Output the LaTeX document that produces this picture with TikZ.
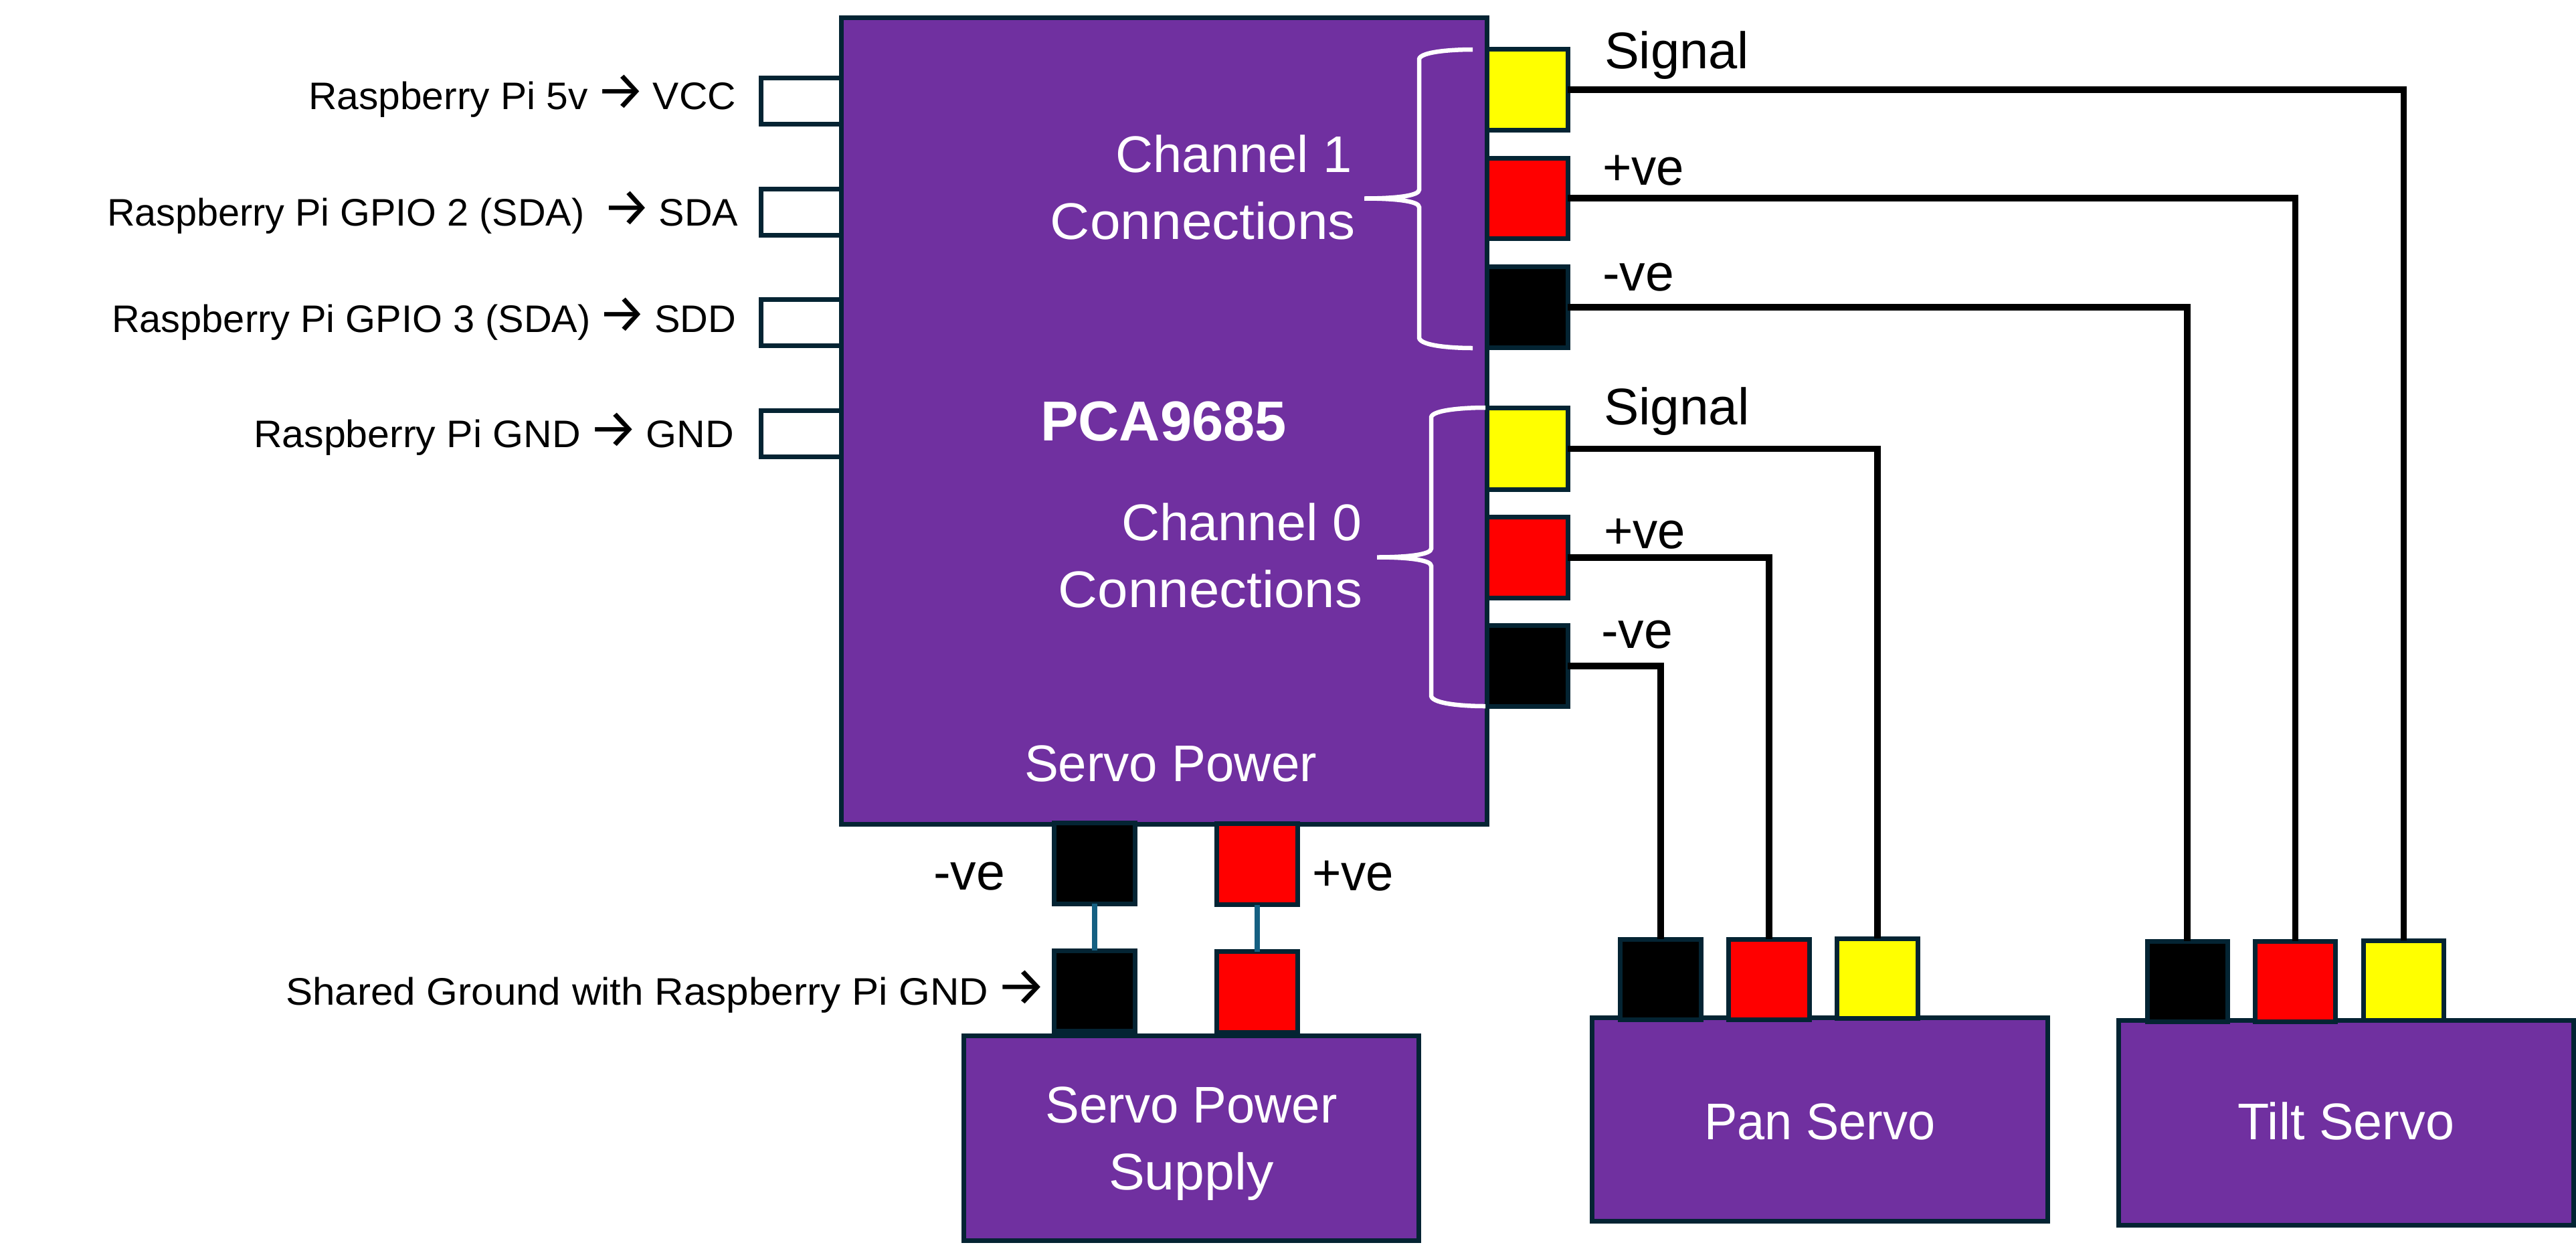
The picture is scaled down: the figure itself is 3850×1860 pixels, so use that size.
\documentclass[tikz,border=0pt]{standalone}
\usepackage{fontspec}
\usepackage{graphicx}
\setmainfont{Liberation Sans}
\newfontfamily\arr{Fira Sans}
\definecolor{edgecol}{HTML}{042433}
\definecolor{boxcol}{HTML}{7030A0}
\definecolor{linkcol}{HTML}{156082}
\definecolor{padyellow}{HTML}{FFFF00}
\definecolor{padred}{HTML}{FF0000}
\newcommand{\fitw}[2]{\resizebox{\dimexpr 0.01cm*#1\relax}{\height}{#2}}
\newcommand{\arw}{\kern-0.05cm{\arr\fontsize{23pt}{24pt}\selectfont →}\kern-0.05cm}
\newcommand{\mkbox}[7]{\node[#1, minimum width={(#5-#3)*0.01cm}, minimum height={(#6-#4)*0.01cm}] (#2) at ({(#3+#5)/2},{(#4+#6)/2}) {#7};}
\newcommand{\lab}[6]{\node[#1] (#2) at (#3,#4) {\fitw{#5}{#6}};}
\newcommand{\mybrace}[6]{\draw[bracecurve] (#2,#4) .. controls ({#2-30},#4) and ({#1+3},{#4+3}) .. (#1,{#4+14}) -- (#1,{#5-13}) .. controls (#1,{#5-4}) and ({#1-35},#5) .. (#3,#5) .. controls ({#1-35},#5) and (#1,{#5+4}) .. (#1,{#5+13}) -- (#1,{#6-15}) .. controls ({#1+3},{#6-3}) and ({#2-30},#6) .. (#2,#6);}
\tikzset{
  shapebox/.style={draw=edgecol, line width=0.07cm, rectangle, inner sep=0pt, outer sep=0pt},
  purplebox/.style={shapebox, fill=boxcol, text=white, align=center, font=\fontsize{21.9pt}{28.4pt}\selectfont},
  pinbox/.style={shapebox, fill=white},
  yellowpad/.style={shapebox, fill=padyellow},
  redpad/.style={shapebox, fill=padred},
  blackpad/.style={shapebox, fill=black},
  wire/.style={draw=black, line width=0.095cm, line join=miter},
  link/.style={draw=linkcol, line width=0.085cm},
  bracecurve/.style={draw=white, line width=0.065cm},
  bigtext/.style={inner sep=0pt, outer sep=0pt, anchor=base west, text=black, font=\fontsize{21.9pt}{26pt}\selectfont},
  smalltext/.style={inner sep=0pt, outer sep=0pt, anchor=base west, text=black, font=\fontsize{16.3pt}{20pt}\selectfont},
  whitetext/.style={bigtext, text=white},
  chantext/.style={inner sep=0pt, outer sep=0pt, anchor=east, text=white, align=right, font=\fontsize{21.9pt}{28.6pt}\selectfont},
  boldtext/.style={bigtext, text=white, font=\fontsize{23.9pt}{28pt}\selectfont\bfseries}
}
\begin{document}
\begin{tikzpicture}[x=0.01cm,y=-0.01cm]
\fill[white] (0,0) rectangle (3850,1860);
\useasboundingbox (0,0) rectangle (3850,1860);
% left pins
\mkbox{pinbox}{pinA}{1137}{116.5}{1257}{185}{}
\mkbox{pinbox}{pinB}{1137}{282.5}{1257}{351}{}
\mkbox{pinbox}{pinC}{1137}{447.5}{1257}{516.5}{}
\mkbox{pinbox}{pinD}{1137}{613.5}{1257}{682}{}
% channel pads
\mkbox{yellowpad}{cha}{2222}{73.7}{2343}{194}{}
\mkbox{redpad}{chb}{2222}{236}{2343}{356}{}
\mkbox{blackpad}{chc}{2222}{398.5}{2343}{519}{}
\mkbox{yellowpad}{cza}{2222}{609.5}{2343}{731}{}
\mkbox{redpad}{czb}{2222}{772.5}{2343}{893.5}{}
\mkbox{blackpad}{czc}{2222}{934.5}{2343}{1055.5}{}
% main board
\mkbox{purplebox}{board}{1257}{26.5}{2222}{1231.5}{}
% power pads
\mkbox{blackpad}{pwn}{1575.5}{1229}{1696.5}{1350}{}
\mkbox{redpad}{ppos}{1818.5}{1230.5}{1939.5}{1351.5}{}
% supply
\mkbox{purplebox}{supply}{1440.5}{1547.5}{2120.5}{1853}{\rule{0pt}{0.70cm}\fitw{436}{Servo Power}\\\fitw{247}{Supply}}
\mkbox{blackpad}{swn}{1575.5}{1420}{1696.5}{1540}{}
\mkbox{redpad}{spos}{1818.5}{1421.5}{1939.5}{1542.5}{}
% servos
\mkbox{purplebox}{pan}{2379.5}{1520.5}{3060.5}{1824}{\rule{0pt}{0.62cm}\fitw{345}{Pan Servo}}
\mkbox{blackpad}{pana}{2421.5}{1403}{2542.5}{1523.5}{}
\mkbox{redpad}{panb}{2583.5}{1403}{2704.5}{1523.5}{}
\mkbox{yellowpad}{panc}{2745.5}{1402}{2866.5}{1521}{}
\mkbox{purplebox}{tilt}{3166.5}{1524.5}{3846.5}{1830.5}{\rule[-0.05cm]{0pt}{0.05cm}\fitw{324}{Tilt Servo}}
\mkbox{blackpad}{tila}{3209}{1406}{3329}{1526.5}{}
\mkbox{redpad}{tilb}{3370.5}{1406}{3490.5}{1526.5}{}
\mkbox{yellowpad}{tilc}{3532.5}{1405}{3652.5}{1524.5}{}
% connectors
\draw[link] (pwn.south) -- (swn.north);
\draw[link] (ppos.south) -- (spos.north);
\draw[wire] (cha.east) -| (tilc.north);
\draw[wire] (chb.east) -| (tilb.north);
\draw[wire] (chc.east) -| (tila.north);
\draw[wire] (cza.east) -| (panc.north);
\draw[wire] (czb.east) -| (panb.north);
\draw[wire] (czc.east) -| (pana.north);
% braces
\mybrace{2121}{2201}{2039}{74}{296.5}{520}
\mybrace{2139}{2220}{2058}{609}{832.5}{1055}
% board text
\node[chantext] (chone) at (2026,280) {\fitw{354}{Channel 1}\kern0.05cm\\\fitw{456}{Connections}};
\node[chantext] (chzero) at (2036,830) {\fitw{360}{Channel 0}\\\fitw{454}{Connections}};
\lab{boldtext}{pcatext}{1555}{658}{368}{PCA9685}
\lab{whitetext}{powertext}{1531}{1167}{437}{Servo Power}
% right labels
\lab{bigtext}{sigone}{2398}{102}{216}{Signal}
\lab{bigtext}{posone}{2395}{276}{122}{+ve}
\lab{bigtext}{negone}{2395}{434}{107}{-ve}
\lab{bigtext}{sigzero}{2397}{634}{218}{Signal}
\lab{bigtext}{poszero}{2397}{819}{122}{+ve}
\lab{bigtext}{negzero}{2393}{968}{107}{-ve}
\lab{bigtext}{negpow}{1395}{1329}{107}{-ve}
\lab{bigtext}{pospow}{1961}{1330}{122}{+ve}
% left labels
\lab{smalltext}{lvcc}{461}{163}{639}{Raspberry Pi 5v \arw{} VCC}
\lab{smalltext}{lsda}{160}{337}{943}{Raspberry Pi GPIO 2 (SDA)~~\arw{} SDA}
\lab{smalltext}{lsdd}{167}{496}{933}{Raspberry Pi GPIO 3 (SDA) \arw{} SDD}
\lab{smalltext}{lgnd}{379}{668}{718}{Raspberry Pi GND \arw{} GND}
\lab{smalltext}{lshared}{427}{1501}{1133}{Shared Ground with Raspberry Pi GND \arw}
\end{tikzpicture}
\end{document}
